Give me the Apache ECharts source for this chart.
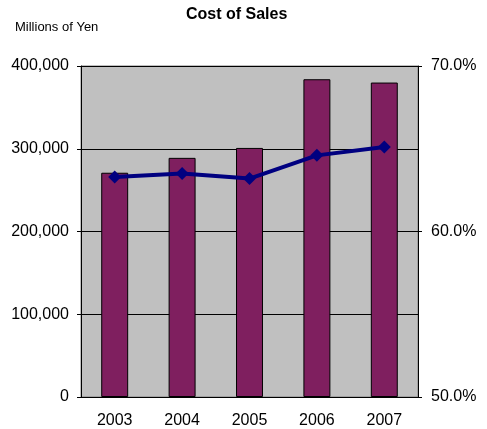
<!DOCTYPE html>
<html>
<head>
<meta charset="utf-8">
<script src="https://cdn.jsdelivr.net/npm/echarts@6/dist/echarts.min.js"></script>
<style>
  html, body { margin: 0; padding: 0; background: #fff; }
  #chart { width: 487px; height: 429px; }
</style>
</head>
<body>
<div id="chart"></div>
<script>
// values
var years = ['2003', '2004', '2005', '2006', '2007'];
var costOfSales = [271000, 289000, 301000, 384000, 380000];   // millions of yen
var costRatio = [63.3, 63.5, 63.2, 64.6, 65.1];               // percent

var font = 'Liberation Sans, Arial, sans-serif';

var chart = echarts.init(document.getElementById('chart'));
var option = {
  animation: false,
  title: {
    text: 'Cost of Sales',
    left: 181,
    top: 2,
    textStyle: { fontFamily: font, fontSize: 16, fontWeight: 'bold', color: '#000' }
  },
  graphic: [{
    type: 'text',
    left: 15,
    top: 21,
    style: { text: 'Millions of Yen', fontFamily: font, fontSize: 13, fill: '#000' }
  }],
  grid: {
    left: 81, right: 69, top: 66, bottom: 32,
    show: true,
    backgroundColor: '#c0c0c0',
    borderColor: '#808080',
    borderWidth: 1
  },
  xAxis: {
    type: 'category',
    data: years,
    axisLine: { lineStyle: { color: '#000', width: 1 } },
    axisTick: { inside: true, length: 5, lineStyle: { color: '#000' } },
    axisLabel: { fontFamily: font, fontSize: 16, color: '#000', margin: 16 }
  },
  yAxis: [{
    type: 'value',
    min: 0, max: 400000, interval: 100000,
    axisLine: { show: true, lineStyle: { color: '#000', width: 1 } },
    axisTick: { show: true, length: 4, lineStyle: { color: '#000' } },
    splitLine: { lineStyle: { color: '#000', width: 1 } },
    axisLabel: {
      fontFamily: font, fontSize: 16, color: '#000', margin: 12,
      formatter: function (v) { return v.toLocaleString('en-US'); }
    }
  }, {
    type: 'value',
    min: 50, max: 70, interval: 10,
    position: 'right',
    axisLine: { show: true, lineStyle: { color: '#000', width: 1 } },
    axisTick: { show: true, length: 4, lineStyle: { color: '#000' } },
    splitLine: { show: false },
    axisLabel: {
      fontFamily: font, fontSize: 16, color: '#000', margin: 13,
      formatter: function (v) { return v.toFixed(1) + '%'; }
    }
  }],
  series: [{
    type: 'bar',
    data: costOfSales,
    barWidth: '40%',
    itemStyle: { color: '#7f1f5f', borderColor: '#000', borderWidth: 1 }
  }, {
    type: 'line',
    yAxisIndex: 1,
    data: costRatio,
    symbol: 'diamond',
    symbolSize: 13,
    lineStyle: { color: '#000080', width: 4 },
    itemStyle: { color: '#000080' }
  }]
};
chart.setOption(option);
</script>
</body>
</html>
